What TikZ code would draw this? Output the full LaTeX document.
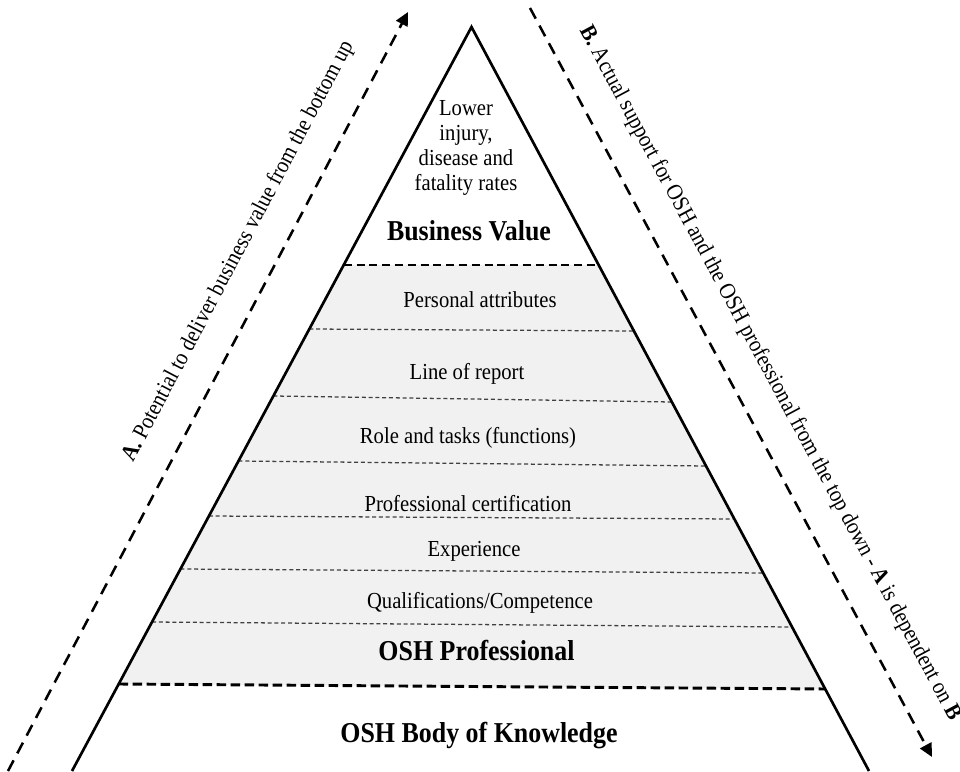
\documentclass[tikz,border=0pt]{standalone}
\usepackage{fontspec}
\setmainfont{Liberation Serif}[FakeStretch=0.9]
\usetikzlibrary{calc,arrows.meta}

\begin{document}
\begin{tikzpicture}[x=0.75pt,y=-0.75pt,
  pyrside/.style={line width=2pt,line cap=butt},
  bandfill/.style={fill=black!5.5},
  bandline/.style={line width=0.95pt,draw=black!75,dash pattern=on 3pt off 2.1pt},
  topline/.style={line width=1.5pt,dash pattern=on 6pt off 3.6pt},
  baseline/.style={line width=2.2pt,dash pattern=on 7pt off 3.5pt},
  flowarrow/.style={line width=1.9pt,dash pattern=on 9pt off 6pt,
    -{Triangle[length=10pt,width=9.5pt]}},
  lbl/.style={font=\fontsize{17.2}{18.75}\selectfont,inner sep=0pt},
  bigl/.style={font=\fontsize{21.6}{24}\selectfont\bfseries,inner sep=0pt},
  sidel/.style={font=\fontsize{17.2}{18.75}\selectfont,inner sep=0pt,sloped,above=20pt}
]
\useasboundingbox (0,0) rectangle (960,771);

% pyramid corners
\coordinate (apex) at (471.5,27);
\coordinate (bl) at (72,771);
\coordinate (br) at (869,771);

% shaded middle section of the pyramid
\fill[bandfill] ($(apex)!{238/744}!(bl)$) -- ($(apex)!{238/744}!(br)$)
  -- ($(apex)!{662/744}!(br)$) -- ($(apex)!{657/744}!(bl)$) -- cycle;

% separators between the levels
\draw[topline] ($(apex)!{238/744}!(bl)$) coordinate (t1) -- ($(apex)!{238/744}!(br)$) coordinate (t2);
\foreach \yl/\yr in {329/331,396/402,461/466,516/519,569/573,622/627}{
  \draw[bandline] ($(apex)!{(\yl-27)/744}!(bl)$) -- ($(apex)!{(\yr-27)/744}!(br)$);
}
\draw[baseline] ($(apex)!{657/744}!(bl)$) coordinate (b1) -- ($(apex)!{662/744}!(br)$) coordinate (b2);

% pyramid sides
\draw[pyrside] (bl) -- (apex) -- (br);

% level labels
\node[lbl,align=center] (lower) at (466,148) {Lower\\injury,\\disease and\\fatality rates};
\node[bigl,anchor=base] (bv) at (469,240.5) {Business Value};
\node[lbl,anchor=base] (pa) at (480,307) {Personal attributes};
\node[lbl,anchor=base] (lr) at (467,379) {Line of report};
\node[lbl,anchor=base] (rt) at (468,443) {Role and tasks (functions)};
\node[lbl,anchor=base] (pc) at (468,511) {Professional certification};
\node[lbl,anchor=base] (ex) at (474,556) {Experience};
\node[lbl,anchor=base] (qc) at (480,608) {Qualifications/Competence};
\node[bigl,anchor=base] (op) at (476.5,660) {OSH Professional};
\node[bigl,anchor=base] (bk) at (479,742) {OSH Body of Knowledge};

% side arrows
\coordinate (aS) at (8,771);
\coordinate (aE) at (408,12);
\draw[flowarrow] (aS) -- (aE)
  node[sidel,pos=0.661] (alab) {\textbf{A.} Potential to deliver business value from the bottom up};

\coordinate (bS) at (530,8);
\coordinate (bE) at (932,757);
\draw[flowarrow] (bS) -- (bE)
  node[sidel,pos=0.512] (blab) {\textbf{B.} Actual support for OSH and the OSH professional from the top down - \textbf{A} is dependent on \textbf{B}};
\end{tikzpicture}
\end{document}
